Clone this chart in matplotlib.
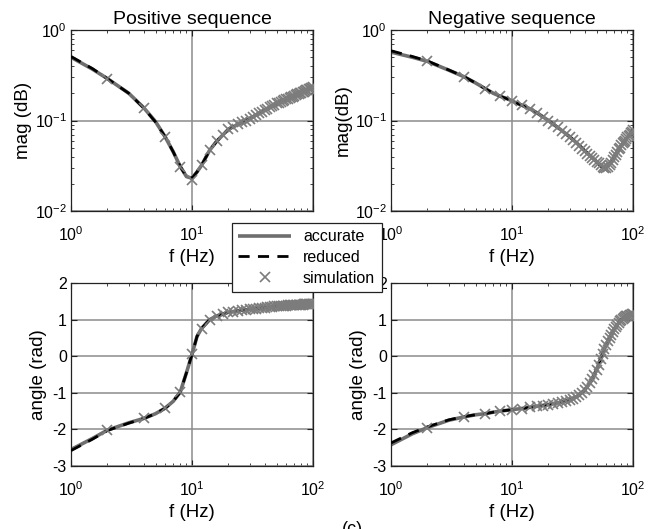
import numpy as np
import matplotlib
matplotlib.use("Agg")
import matplotlib.pyplot as plt
from matplotlib.ticker import LogLocator, NullFormatter, FixedLocator

plt.rcParams['font.family'] = ['Liberation Sans', 'DejaVu Sans']
plt.rcParams['mathtext.fontset'] = 'custom'
plt.rcParams['mathtext.rm'] = 'Liberation Sans'
plt.rcParams['axes.unicode_minus'] = False

# ---------------- data ----------------
f_line = [1, 1.5, 2, 3, 4, 5, 6, 7, 8, 9, 10, 11, 12, 14, 16, 20, 25, 30, 35,
          40, 45, 50, 55, 60, 65, 70, 80, 90, 100]
f_sim = list(range(2, 101, 2))

pos_mag_acc = [0.50, 0.37, 0.29, 0.20, 0.138, 0.097, 0.066, 0.045, 0.031, 0.024,
               0.023, 0.027, 0.032, 0.047, 0.059, 0.080, 0.093, 0.105, 0.118,
               0.130, 0.143, 0.155, 0.164, 0.172, 0.180, 0.188, 0.203, 0.218, 0.233]
pos_mag_red = [0.51, 0.375, 0.29, 0.20, 0.137, 0.096, 0.066, 0.045, 0.031, 0.024,
               0.023, 0.027, 0.032, 0.047, 0.059, 0.080, 0.093, 0.105, 0.118,
               0.130, 0.143, 0.155, 0.164, 0.172, 0.180, 0.188, 0.203, 0.218, 0.233]
pos_mag_sim = [0.29, 0.138, 0.066, 0.031, 0.022, 0.032, 0.047, 0.059, 0.070, 0.080,
               0.085, 0.091, 0.096, 0.100, 0.105, 0.110, 0.115, 0.120, 0.125, 0.130,
               0.135, 0.140, 0.145, 0.150, 0.155, 0.158, 0.162, 0.165, 0.168, 0.172,
               0.175, 0.178, 0.181, 0.184, 0.188, 0.191, 0.194, 0.197, 0.200, 0.203,
               0.206, 0.209, 0.212, 0.215, 0.218, 0.221, 0.224, 0.227, 0.230, 0.233]

neg_mag_acc = [0.57, 0.50, 0.45, 0.36, 0.305, 0.26, 0.225, 0.20, 0.185, 0.175,
               0.165, 0.155, 0.148, 0.135, 0.122, 0.100, 0.080, 0.066, 0.055,
               0.046, 0.040, 0.035, 0.031, 0.030, 0.034, 0.040, 0.053, 0.065, 0.078]
neg_mag_red = [0.59, 0.51, 0.455, 0.362, 0.306, 0.26, 0.225, 0.20, 0.185, 0.175,
               0.165, 0.155, 0.148, 0.135, 0.122, 0.100, 0.080, 0.066, 0.055,
               0.046, 0.040, 0.035, 0.031, 0.030, 0.034, 0.040, 0.053, 0.065, 0.078]
neg_mag_sim = [0.45, 0.305, 0.225, 0.185, 0.165, 0.148, 0.135, 0.122, 0.110, 0.100,
               0.092, 0.084, 0.077, 0.071, 0.066, 0.061, 0.056, 0.052, 0.049, 0.046,
               0.043, 0.041, 0.039, 0.037, 0.035, 0.034, 0.032, 0.031, 0.030, 0.030,
               0.031, 0.032, 0.034, 0.037, 0.040, 0.042, 0.045, 0.048, 0.050, 0.053,
               0.056, 0.058, 0.060, 0.062, 0.065, 0.068, 0.070, 0.073, 0.075, 0.078]

pos_ang_acc = [-2.55, -2.25, -2.02, -1.82, -1.70, -1.57, -1.42, -1.23, -0.98, -0.45,
               0.05, 0.54, 0.76, 1.00, 1.10, 1.20, 1.25, 1.28, 1.31,
               1.33, 1.35, 1.37, 1.377, 1.384, 1.391, 1.398, 1.41, 1.422, 1.432]
pos_ang_red = [-2.58, -2.27, -2.03, -1.83, -1.70, -1.57, -1.42, -1.23, -0.98, -0.45,
               0.05, 0.54, 0.76, 1.00, 1.10, 1.20, 1.25, 1.28, 1.31,
               1.33, 1.35, 1.37, 1.377, 1.384, 1.391, 1.398, 1.41, 1.422, 1.432]
pos_ang_sim = [-2.02, -1.70, -1.42, -0.98, 0.05, 0.75, 1.00, 1.10, 1.16, 1.20,
               1.22, 1.24, 1.26, 1.27, 1.28, 1.29, 1.30, 1.31, 1.32, 1.33,
               1.34, 1.35, 1.355, 1.36, 1.37, 1.372, 1.375, 1.378, 1.381, 1.384,
               1.387, 1.39, 1.392, 1.395, 1.398, 1.40, 1.403, 1.405, 1.408, 1.41,
               1.412, 1.415, 1.417, 1.42, 1.422, 1.424, 1.426, 1.428, 1.43, 1.432]

neg_ang_acc = [-2.42, -2.12, -1.95, -1.75, -1.66, -1.60, -1.57, -1.53, -1.50, -1.48,
               -1.46, -1.445, -1.43, -1.40, -1.37, -1.32, -1.26, -1.19, -1.09,
               -0.92, -0.68, -0.37, 0.0, 0.31, 0.55, 0.75, 1.00, 1.10, 1.15]
neg_ang_red = [-2.37, -2.09, -1.93, -1.74, -1.65, -1.60, -1.57, -1.53, -1.50, -1.48,
               -1.46, -1.445, -1.43, -1.40, -1.37, -1.32, -1.26, -1.19, -1.09,
               -0.92, -0.68, -0.37, 0.0, 0.31, 0.55, 0.75, 1.00, 1.10, 1.15]
neg_ang_sim = [-1.95, -1.66, -1.57, -1.50, -1.46, -1.43, -1.40, -1.37, -1.35, -1.32,
               -1.30, -1.27, -1.25, -1.22, -1.19, -1.16, -1.12, -1.07, -1.00, -0.92,
               -0.83, -0.73, -0.62, -0.50, -0.37, -0.23, -0.08, 0.06, 0.19, 0.31,
               0.41, 0.50, 0.59, 0.67, 0.75, 0.81, 0.86, 0.91, 0.96, 1.00,
               1.03, 1.05, 1.07, 1.09, 1.10, 1.11, 1.12, 1.13, 1.14, 1.15]

titles = ["Positive sequence", "Negative sequence"]
mag_ylabels = ["mag (dB)", "mag(dB)"]
ang_ylabel = "angle (rad)"
xlabel = "f (Hz)"
legend_labels = ["accurate", "reduced", "simulation"]

# ---------------- figure ----------------
W, H = 649, 529
fig = plt.figure(figsize=(W / 100, H / 100), dpi=100)

def rect(x0, y0, x1, y1):
    return [x0 / W, 1 - y1 / H, (x1 - x0) / W, (y1 - y0) / H]

ax_pm = fig.add_axes(rect(71, 30, 313, 211))
ax_nm = fig.add_axes(rect(391, 30, 633, 211))
ax_pa = fig.add_axes(rect(71, 283, 313, 466))
ax_na = fig.add_axes(rect(391, 283, 633, 466))

ACC = '#6e6e6e'
SIM = '#7c7c7c'
GRID = '#8c8c8c'
TICK_FS = 11.5
LAB_FS = 13.5
TITLE_FS = 14

def draw(ax, acc, red, sim):
    ha, = ax.plot(f_line, acc, color=ACC, lw=2.6, zorder=2, solid_capstyle='butt')
    hr, = ax.plot(f_line, red, color='black', lw=2.0, ls=(0, (4, 3)), zorder=3)
    hs, = ax.plot(f_sim, sim, ls='none', marker='x', ms=7, mew=1.2,
                  color=SIM, zorder=4)
    return ha, hr, hs

def style(ax, logy):
    ax.set_xscale('log')
    ax.set_xlim(1, 100)
    ax.xaxis.set_major_locator(FixedLocator([1, 10, 100]))
    ax.xaxis.set_minor_locator(LogLocator(base=10, subs=np.arange(2, 10)))
    ax.xaxis.set_minor_formatter(NullFormatter())
    if logy:
        ax.set_yscale('log')
        ax.set_ylim(0.01, 1)
        ax.yaxis.set_major_locator(FixedLocator([0.01, 0.1, 1]))
        ax.yaxis.set_minor_locator(LogLocator(base=10, subs=np.arange(2, 10)))
        ax.yaxis.set_minor_formatter(NullFormatter())
    else:
        ax.set_ylim(-3, 2)
        ax.set_yticks([-3, -2, -1, 0, 1, 2])
    ax.grid(True, which='major', color=GRID, lw=1.1)
    ax.set_axisbelow(True)
    ax.tick_params(which='both', direction='in', top=True, right=True,
                   labelsize=TICK_FS, colors='#222222', labelcolor='black')
    ax.tick_params(which='major', length=4, width=0.8)
    ax.tick_params(axis='x', which='major', pad=10)
    ax.tick_params(axis='y', which='major', pad=3)
    ax.tick_params(which='minor', length=2, width=0.6)
    for s in ax.spines.values():
        s.set_color('#222222')
        s.set_linewidth(0.9)
    ax.set_xlabel(xlabel, fontsize=LAB_FS, labelpad=4)

handles = draw(ax_pm, pos_mag_acc, pos_mag_red, pos_mag_sim)
draw(ax_nm, neg_mag_acc, neg_mag_red, neg_mag_sim)
draw(ax_pa, pos_ang_acc, pos_ang_red, pos_ang_sim)
draw(ax_na, neg_ang_acc, neg_ang_red, neg_ang_sim)

for ax in (ax_pm, ax_nm):
    style(ax, True)
for ax in (ax_pa, ax_na):
    style(ax, False)

ax_pm.set_title(titles[0], fontsize=TITLE_FS, pad=4)
ax_nm.set_title(titles[1], fontsize=TITLE_FS, pad=4)
ax_pm.set_ylabel(mag_ylabels[0], fontsize=LAB_FS, labelpad=2)
ax_nm.set_ylabel(mag_ylabels[1], fontsize=LAB_FS, labelpad=2)
ax_pa.set_ylabel(ang_ylabel, fontsize=LAB_FS, labelpad=4)
ax_na.set_ylabel(ang_ylabel, fontsize=LAB_FS, labelpad=4)

leg = fig.legend(handles, legend_labels, loc='upper left',
                 bbox_to_anchor=(232 / W, 1 - 223 / H), borderaxespad=0,
                 fontsize=11.5, frameon=True, fancybox=False, framealpha=1,
                 edgecolor='#222222', handlelength=3.3, handletextpad=0.75,
                 labelspacing=0.35, borderpad=0.4)
leg.get_frame().set_linewidth(0.9)

fig.text(352 / W, 1 - 521 / H, "(c)", fontsize=13, ha='center', va='top')

fig.savefig("out.png", dpi=100)
